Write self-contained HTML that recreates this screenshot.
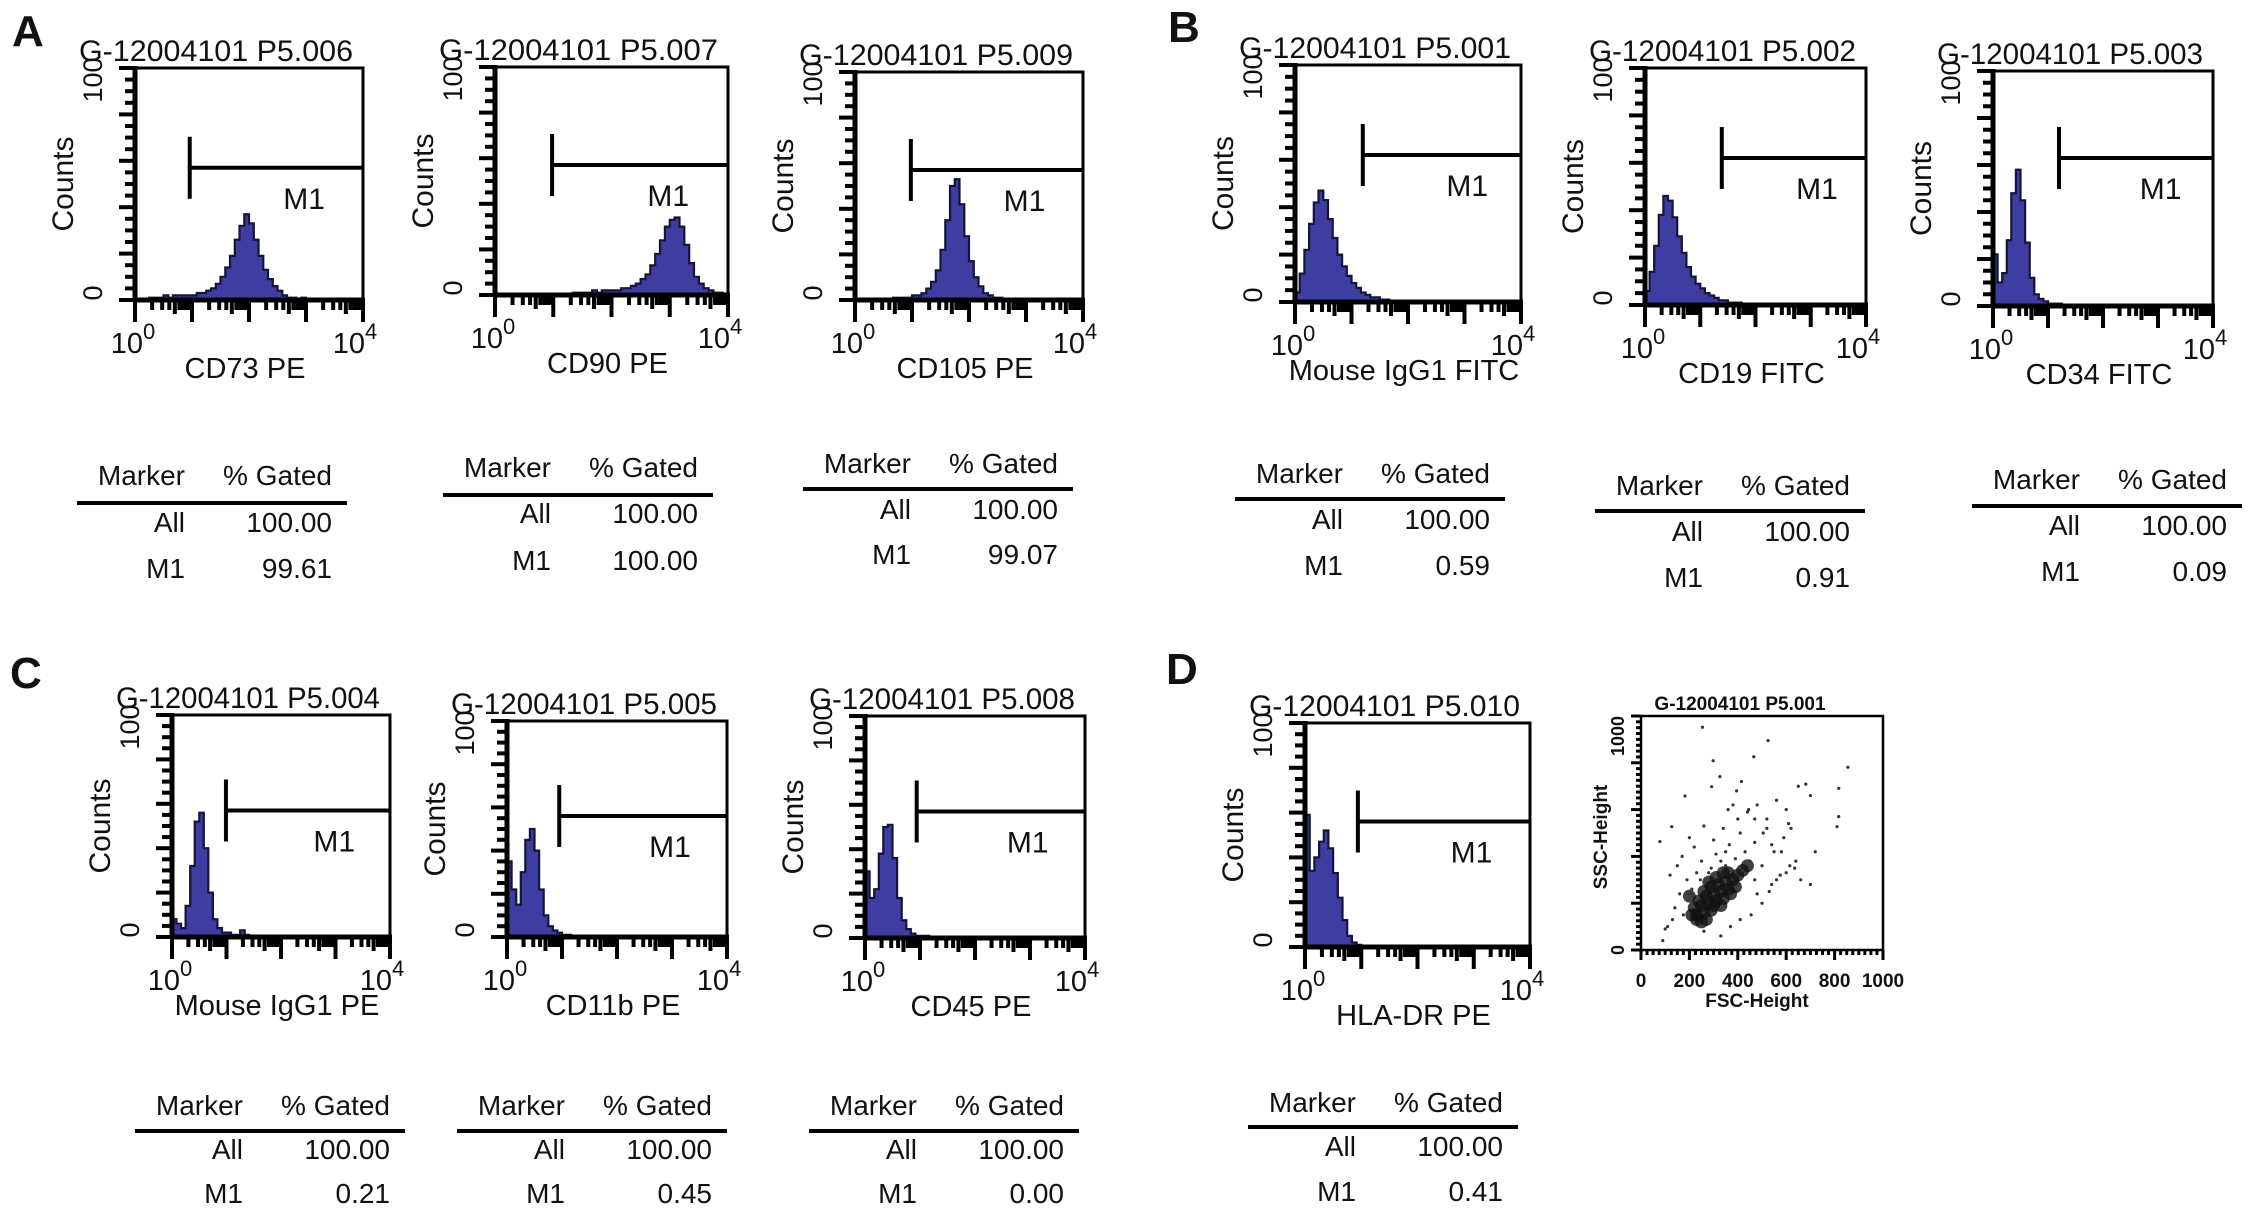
<!DOCTYPE html>
<html><head><meta charset="utf-8">
<style>
html,body{margin:0;padding:0;background:#fff;}
svg{display:block;}
text{font-family:"Liberation Sans",Arial,sans-serif;fill:#111;}
</style></head>
<body>
<svg id="fig" width="2268" height="1214" viewBox="0 0 2268 1214" xmlns="http://www.w3.org/2000/svg">
<rect x="0" y="0" width="2268" height="1214" fill="#fff"/>
<text x="12" y="46" font-size="44" font-weight="bold">A</text>
<text x="1168" y="42" font-size="44" font-weight="bold">B</text>
<text x="10" y="688" font-size="44" font-weight="bold">C</text>
<text x="1166" y="684" font-size="44" font-weight="bold">D</text>
<g id="plots"></g>
</svg>
<script>
// ---- histogram data (counts, % of full scale, 48 bins over 10^0..10^4) ----
const countsCD73 = [0,0,0,1,1,1,2,1,2,2,2,2,2,3,3,4,5,7,10,14,19,26,32,37,33,26,19,13,9,6,4,2,1,1,0,1,0,0,0,0,0,0,0,0,0,0,0,0];
const countsCD90 = [0,0,0,0,0,0,0,0,0,0,0,0,0,0,0,0,1,1,1,1,2,1,2,2,2,2,3,3,4,5,7,9,13,18,24,30,33,34,30,22,14,8,5,3,2,1,1,0];
const countsCD105 = [0,0,0,0,0,0,0,0,1,1,1,1,2,2,3,5,8,13,22,35,50,53,42,28,17,10,6,3,2,1,1,0,0,0,0,0,0,0,0,0,0,0,0,0,0,0,0,0];
const countsIgG1FITC = [4,12,22,33,42,47,43,35,27,20,15,11,8,6,4,3,2,2,1,1,0,0,0,0,0,0,0,0,0,0,0,0,0,0,0,0,0,0,0,0,0,0,0,0,0,0,0,0];
const countsCD19 = [6,14,25,38,46,44,37,29,22,16,12,9,7,5,4,3,2,2,1,1,1,0,0,0,0,0,0,0,0,0,0,0,0,0,0,0,0,0,0,0,0,0,0,0,0,0,0,0];
const countsCD34 = [22,10,14,28,48,58,45,27,12,5,3,2,1,1,1,0,0,0,0,0,0,0,0,0,0,0,0,0,0,0,0,0,0,0,0,0,0,0,0,0,0,0,0,0,0,0,0,0];
const countsIgG1PE = [8,6,4,14,32,52,56,40,20,8,4,2,2,1,1,3,1,0,0,0,0,0,0,0,0,0,0,0,0,0,0,0,0,0,0,0,0,0,0,0,0,0,0,0,0,0,0,0];
const countsCD11b = [35,22,15,30,45,50,40,22,10,5,3,2,1,1,0,0,0,0,0,0,0,0,0,0,0,0,0,0,0,0,0,0,0,0,0,0,0,0,0,0,0,0,0,0,0,0,0,0];
const countsCD45 = [30,18,22,38,50,51,36,18,8,4,2,1,1,1,0,0,0,0,0,0,0,0,0,0,0,0,0,0,0,0,0,0,0,0,0,0,0,0,0,0,0,0,0,0,0,0,0,0];
const countsHLADR = [59,34,40,47,52,44,33,22,12,5,2,1,0,0,0,0,0,0,0,0,0,0,0,0,0,0,0,0,0,0,0,0,0,0,0,0,0,0,0,0,0,0,0,0,0,0,0,0];
// gate start (log10 decades) and gate bar height (% of scale)
const gateStart = [0.96,0.98,0.98,1.2,1.39,1.2,0.99,0.95,0.94,0.94];
const gateLevel = [57,57,57,62,62,63,57,56,57,56];
// stats tables
const pctAll = ["100.00","100.00","100.00","100.00","100.00","100.00","100.00","100.00","100.00","100.00"];
const pctM1 = ["99.61","100.00","99.07","0.59","0.91","0.09","0.21","0.45","0.00","0.41"];
const sampleIds = ["P5.006","P5.007","P5.009","P5.001","P5.002","P5.003","P5.004","P5.005","P5.008","P5.010"];
const axisLabels = ["CD73 PE","CD90 PE","CD105 PE","Mouse IgG1 FITC","CD19 FITC","CD34 FITC","Mouse IgG1 PE","CD11b PE","CD45 PE","HLA-DR PE"];
// scatter data (FSC-Height, SSC-Height)
const scatterFSC = [254,525,298,466,326,415,855,817,817,810,681,292,182,78,127,650,700,560,600,480,520,440,380,620,590,540,505,470,430,400,360,340,300,260,220,200,170,150,120,100,90,140,250,350,450,550,640,610,580,500,470,420,390,350,310,280,230,190,160,210,260,330,370,410,455,500,530,560,600,635,660,700,720,520,470,410,365,330,290,245,205,175,130,110,480,540,575,615,445,395];
const scatterSSC = [952,895,809,826,741,720,781,691,570,527,709,698,658,463,527,700,660,640,600,620,560,590,620,520,480,450,500,460,420,560,600,520,470,530,440,480,400,360,320,90,40,180,380,420,380,420,380,540,420,360,300,340,390,360,410,330,330,300,240,260,80,60,100,130,150,200,250,300,330,350,300,280,420,520,560,500,450,380,350,300,240,150,130,100,240,280,320,360,600,680];
const coreFSC = [230,260,290,250,280,310,340,270,300,330,360,290,320,350,380,240,220,260,310,340,400,230,270,300,370,330,280,420,250,210,200,360,390,440];
const coreSSC = [150,160,170,190,200,210,220,230,240,250,260,270,280,290,300,210,180,250,310,330,320,130,130,190,240,190,290,340,120,150,230,330,270,360];

const NS = "http://www.w3.org/2000/svg";
const root = document.getElementById("plots");
function el(tag, attrs, parent, txt){
  const e = document.createElementNS(NS, tag);
  for (const k in attrs) e.setAttribute(k, attrs[k]);
  if (txt !== undefined) e.textContent = txt;
  (parent||root).appendChild(e);
  return e;
}
const boxes = [[135,68,363,300],[495,67,728,295],[855,72,1083,300],[1295,65,1521,302],[1645,68,1866,305],[1993,71,2213,306],[172,715,390,937],[507,721,727,937],[865,716,1085,938],[1305,723,1530,947]];
const tables = [[77,503,475,522,568],[443,495,467,513,560],[803,489,463,509,554],[1235,499,473,519,565],[1595,511,485,531,577],[1972,506,479,525,571],[135,1131,1105,1149,1193],[457,1131,1105,1149,1193],[809,1131,1105,1149,1193],[1248,1127,1102,1146,1191]];
const allCounts = [countsCD73,countsCD90,countsCD105,countsIgG1FITC,countsCD19,countsCD34,countsIgG1PE,countsCD11b,countsCD45,countsHLADR];

allCounts.forEach((counts, p) => {
  const [L,T,R,B] = boxes[p];
  const g = el("g", {});
  
  
  const xs = v => L + (v/4)*(R-L);
  const ys = v => B - (v/100)*(B-T);
  const bw = 4/counts.length;
  let d = "M" + xs(0) + " " + B;
  counts.forEach((c,i) => {
    const y = ys(c);
    d += " L" + xs(i*bw).toFixed(1) + " " + y.toFixed(1) + " L" + xs((i+1)*bw).toFixed(1) + " " + y.toFixed(1);
  });
  d += " L" + R + " " + B + " Z";
  const h = el("path", {d:d, fill:"#3d3da2", stroke:"#15153a", "stroke-width":2.2, "stroke-linejoin":"miter"}, g);
  
  
  const fr = el("rect", {x:L, y:T, width:R-L, height:B-T, fill:"none", stroke:"#000", "stroke-width":3}, g);
  
  
  el("line", {x1:L, y1:T-2, x2:L, y2:B+2, stroke:"#000", "stroke-width":5}, g);
  el("line", {x1:L-2, y1:B, x2:R+2, y2:B, stroke:"#000", "stroke-width":5}, g);
  for (let k=0;k<=20;k++){
    const y = ys(k*5);
    const len = (k%4===0)?16:10;
    el("line", {x1:L-len, y1:y, x2:L, y2:y, stroke:"#000", "stroke-width":4}, g);
  }
  for (let dec=0; dec<4; dec++){
    for (let m=1; m<10; m++){
      const v = dec + Math.log10(m);
      const len = m===1?22:(m===5?14:10);
      el("line", {x1:xs(v), y1:B, x2:xs(v), y2:B+len, stroke:"#000", "stroke-width":4}, g);
    }
  }
  el("line", {x1:R, y1:B, x2:R, y2:B+22, stroke:"#000", "stroke-width":4}, g);
  const gx = xs(gateStart[p]), gy = ys(gateLevel[p]);
  const gate = el("g", {}, g);
  
  
  el("line", {x1:gx, y1:gy-31, x2:gx, y2:gy+31, stroke:"#000", "stroke-width":4}, gate);
  el("line", {x1:gx, y1:gy, x2:R, y2:gy, stroke:"#000", "stroke-width":4}, gate);
  const m1 = el("text", {x:gx+(R-gx)*0.66, y:gy+41, "font-size":30, "text-anchor":"middle"}, gate, "M1");
  
  
  const tt = el("text", {x:L-56, y:T-7, "font-size":30, textLength:(R-L)+46, lengthAdjust:"spacingAndGlyphs"}, g, "G-12004101 " + sampleIds[p]);
  
  
  const y100 = el("text", {x:0, y:0, "font-size":27, "text-anchor":"middle", transform:"translate("+(L-33)+","+(T+12)+") rotate(-90)"}, g, "100");
  
  
  const y0 = el("text", {x:0, y:0, "font-size":27, "text-anchor":"middle", transform:"translate("+(L-33)+","+(B-7)+") rotate(-90)"}, g, "0");
  
  
  const yt = el("text", {x:0, y:0, "font-size":30, "text-anchor":"middle", transform:"translate("+(L-62)+","+((T+B)/2)+") rotate(-90)"}, g, "Counts");
  
  
  [[0,"0"],[4,"4"]].forEach(([v,e]) => {
    const t = el("text", {x:xs(v)-(v===0?2:8), y:B+53, "font-size":29, "text-anchor":"middle"}, g);
    
    
    el("tspan", {}, t, "10");
    el("tspan", {dy:-14, "font-size":22}, t, e);
  });
  const xt = el("text", {x:(L+R)/2-4, y:B+78, "font-size":29, "text-anchor":"middle"}, g, axisLabels[p]);
  
  
  const [tx, ly, hy, ay, my] = tables[p];
  const tg = el("g", {}, root);
  
  
  el("text", {x:tx+108, y:hy+10, "font-size":28, "text-anchor":"end"}, tg, "Marker");
  el("text", {x:tx+255, y:hy+10, "font-size":28, "text-anchor":"end"}, tg, "% Gated");
  el("line", {x1:tx, y1:ly, x2:tx+270, y2:ly, stroke:"#000", "stroke-width":4}, tg);
  el("text", {x:tx+108, y:ay+10, "font-size":28, "text-anchor":"end"}, tg, "All");
  el("text", {x:tx+255, y:ay+10, "font-size":28, "text-anchor":"end"}, tg, pctAll[p]);
  el("text", {x:tx+108, y:my+10, "font-size":28, "text-anchor":"end"}, tg, "M1");
  el("text", {x:tx+255, y:my+10, "font-size":28, "text-anchor":"end"}, tg, pctM1[p]);
});

(function(){
  const L=1641, T=716, R=1883, B=950;
  const g = el("g", {});
  
  
  const xs = v => L + v/1000*(R-L);
  const ys = v => B - v/1000*(B-T);
  coreFSC.forEach((f,i) => {
    const c = el("circle", {cx:xs(f), cy:ys(coreSSC[i]), r:6.5, fill:"#111", "fill-opacity":0.8}, g);
    
    
  });
  scatterFSC.forEach((f,i) => {
    const c = el("circle", {cx:xs(f), cy:ys(scatterSSC[i]), r:1.6, fill:"#333"}, g);
    
    
  });
  const fr = el("rect", {x:L, y:T, width:R-L, height:B-T, fill:"none", stroke:"#000", "stroke-width":2.5}, g);
  
  
  for (let k=0;k<=40;k++){
    const v = k*25, len = (k%8===0)?10:5;
    el("line", {x1:xs(v), y1:B, x2:xs(v), y2:B+len, stroke:"#000", "stroke-width":3}, g);
    el("line", {x1:L-len, y1:ys(v), x2:L, y2:ys(v), stroke:"#000", "stroke-width":3}, g);
  }
  [0,200,400,600,800,1000].forEach(v => {
    const t = el("text", {x:xs(v), y:B+37, "font-size":19, "font-weight":"bold", "text-anchor":"middle", fill:"#222"}, g, String(v));
    
    
  });
  const a = el("text", {x:0,y:0,"font-size":18,"font-weight":"bold","text-anchor":"middle",transform:"translate("+(L-17)+","+(T+20)+") rotate(-90)"}, g, "1000");
  
  
  const b = el("text", {x:0,y:0,"font-size":18,"font-weight":"bold","text-anchor":"middle",transform:"translate("+(L-17)+","+(B)+") rotate(-90)"}, g, "0");
  
  
  const yl = el("text", {x:0,y:0,"font-size":19,"font-weight":"bold","text-anchor":"middle",transform:"translate("+(L-34)+","+((T+B)/2+4)+") rotate(-90)"}, g, "SSC-Height");
  
  
  const xl = el("text", {x:1757, y:1007, "font-size":19, "font-weight":"bold", "text-anchor":"middle"}, g, "FSC-Height");
  
  
  const tt = el("text", {x:1740, y:710, "font-size":19, "font-weight":"bold", "text-anchor":"middle"}, g, "G-12004101 P5.001");
  
  
})();
</script>
</body></html>
